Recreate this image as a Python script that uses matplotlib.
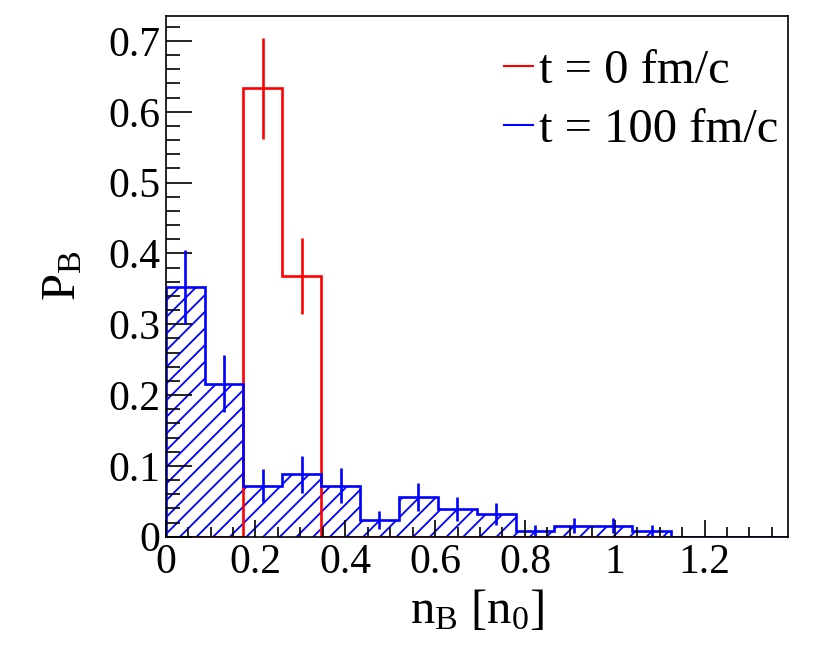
import matplotlib
matplotlib.use("Agg")
import matplotlib.pyplot as plt
import numpy as np
from matplotlib.ticker import MultipleLocator

plt.rcParams['font.family'] = ['Liberation Serif', 'DejaVu Serif']
plt.rcParams['mathtext.fontset'] = 'custom'
plt.rcParams['mathtext.rm'] = 'Liberation Serif'
plt.rcParams['mathtext.it'] = 'Liberation Serif:italic'
plt.rcParams['hatch.linewidth'] = 1.3

# 16 bins in n_B [n_0]
x_max = 1.385
n_bins = 16

# t = 0 fm/c
red_vals = [0, 0, 0.633, 0.368, 0, 0, 0, 0, 0, 0, 0, 0, 0, 0, 0, 0]
red_errs = [0, 0, 0.071, 0.054, 0, 0, 0, 0, 0, 0, 0, 0, 0, 0, 0, 0]

# t = 100 fm/c
blue_vals = [0.353, 0.216, 0.072, 0.088, 0.072, 0.024, 0.056, 0.039,
             0.032, 0.0085, 0.0156, 0.0156, 0.0085, 0, 0, 0]
blue_errs = [0.052, 0.040, 0.023, 0.026, 0.025, 0.013, 0.020, 0.017,
             0.015, 0.0075, 0.0105, 0.0105, 0.0075, 0, 0, 0]

edges = np.linspace(0, x_max, n_bins + 1)
centers = 0.5 * (edges[:-1] + edges[1:])
red_vals = np.array(red_vals)
red_errs = np.array(red_errs)
blue_vals = np.array(blue_vals)
blue_errs = np.array(blue_errs)

lw = 1.9

fig = plt.figure(figsize=(8.3, 6.55), dpi=100)
ax = fig.add_axes([0.1996, 0.1806, 0.7494, 0.7954])

# hatched blue area
ax.fill_between(edges, np.append(blue_vals, blue_vals[-1]), 0, step='post',
                facecolor='none', edgecolor='blue', hatch='//', linewidth=0)

ax.stairs(red_vals, edges, color='red', linewidth=lw)
ax.stairs(blue_vals, edges, color='blue', linewidth=lw)

rm = red_vals > 0
ax.errorbar(centers[rm], red_vals[rm], yerr=red_errs[rm], fmt='none',
            ecolor='red', elinewidth=lw, capsize=0)
bm = blue_vals > 0
ax.errorbar(centers[bm], blue_vals[bm], yerr=blue_errs[bm], fmt='none',
            ecolor='blue', elinewidth=lw, capsize=0)

# legend handles
lr, = ax.plot([], [], color='red', linewidth=1.5)
lb, = ax.plot([], [], color='blue', linewidth=1.5)
ax.legend([lr, lb], ['t = 0 fm/c', 't = 100 fm/c'], loc='upper right',
          bbox_to_anchor=(1.0, 0.955), frameon=False, fontsize=35,
          handlelength=0.6, handletextpad=0.12, labelspacing=0.3,
          borderaxespad=0.1, borderpad=0.1)

ax.set_xlim(0, x_max)
ax.set_ylim(0, 0.7356)
ax.xaxis.set_minor_locator(MultipleLocator(0.05))
ax.yaxis.set_minor_locator(MultipleLocator(0.02))
ax.set_xticks([0, 0.2, 0.4, 0.6, 0.8, 1.0, 1.2])
ax.set_xticklabels(['0', '0.2', '0.4', '0.6', '0.8', '1', '1.2'])
ax.set_yticks([0, 0.1, 0.2, 0.3, 0.4, 0.5, 0.6, 0.7])
ax.set_yticklabels(['0', '0.1', '0.2', '0.3', '0.4', '0.5', '0.6', '0.7'])

ax.tick_params(which='both', direction='in', top=False, right=False,
               labelsize=30, width=1.2)
ax.tick_params(axis='x', which='major', length=12, pad=5)
ax.tick_params(axis='x', which='minor', length=7)
ax.tick_params(axis='y', which='major', length=19, pad=4)
ax.tick_params(axis='y', which='minor', length=10)
for s in ax.spines.values():
    s.set_linewidth(1.2)

ax.set_xlabel(r'$\mathregular{n_{B}}$ [$\mathregular{n_{0}}$]', fontsize=35,
              labelpad=4)
ax.set_ylabel(r'$\mathregular{P_{B}}$', fontsize=35, labelpad=16)

fig.savefig('out.png', dpi=100)
